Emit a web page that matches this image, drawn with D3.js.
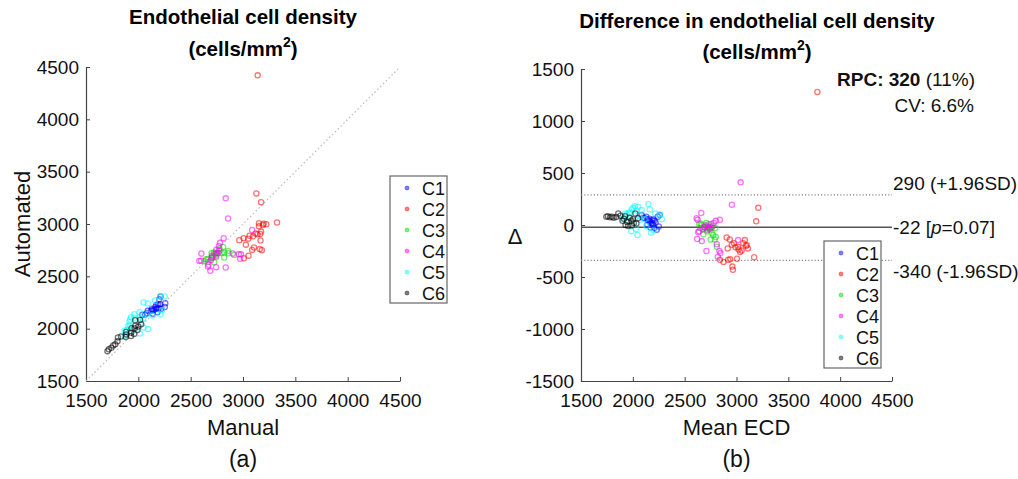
<!DOCTYPE html>
<html>
<head>
<meta charset="utf-8">
<script src="https://cdn.jsdelivr.net/npm/d3@7"></script>
<style>
  html, body { margin: 0; padding: 0; background: #fff; }
  svg { display: block; font-family: "Liberation Sans", Arial, Helvetica, sans-serif; }
</style>
</head>
<body>
<div id="chart"></div>
<script>
// Readings per cluster, taken from panel (b): [mean ECD, automated - manual].
// Panel (a) uses the same readings turned back into (manual, automated).
const c1 = [[2085,95],[2100,70],[2115,65],[2130,80],[2140,5],[2145,50],[2155,40],[2160,60],[2165,30],[2170,-25],[2180,20],[2190,10],[2195,0],[2205,-30],[2210,40],[2220,25],[2230,-45],[2240,80],[2250,-15],[2260,95],[2185,45],[2200,55]];
const c2 = [[2840,-335],[2875,-355],[2905,-120],[2915,-225],[2920,-335],[2935,-140],[2940,-330],[2955,-190],[2960,-400],[2965,-430],[2975,-175],[2990,-215],[3005,-325],[3015,-210],[3020,-235],[3035,-260],[3050,-245],[3065,-175],[3080,-145],[3090,-200],[3100,-195],[3110,-225],[3170,-310],[3190,35],[3210,165],[3780,1280]];
const c3 = [[2640,10],[2650,-30],[2655,15],[2665,0],[2680,-90],[2690,-25],[2700,-30],[2710,20],[2715,-60],[2725,5],[2735,-30],[2745,-45],[2750,-140],[2760,-75],[2770,-10],[2775,-95],[2790,-140],[2795,-30],[2800,-115],[2810,-210],[2720,-15]];
const c4 = [[2615,65],[2625,50],[2620,-135],[2630,-70],[2640,-60],[2660,115],[2665,-155],[2675,-40],[2690,-20],[2700,-5],[2710,-250],[2720,-45],[2730,-20],[2740,-35],[2750,10],[2760,-25],[2780,20],[2800,40],[2810,-185],[2820,-305],[2835,-250],[2840,50],[2845,-270],[2955,195],[3015,-145],[3040,410]];
const c5 = [[1900,60],[1925,110],[1940,100],[1955,40],[1965,120],[1975,115],[1990,150],[2005,165],[2020,180],[2035,140],[2050,175],[1985,-60],[2045,-95],[2030,-40],[2070,50],[2085,145],[2115,55],[2130,-10],[2150,200],[2165,150],[2175,-75],[2200,-50],[2215,110],[2260,100],[2280,55],[2060,90]];
const c6 = [[1745,80],[1760,85],[1780,75],[1800,80],[1815,70],[1840,78],[1860,110],[1880,90],[1900,40],[1915,60],[1930,0],[1945,30],[1955,-10],[1970,70],[1985,40],[2000,55],[2010,20],[2025,110],[2035,15],[2050,65],[1990,-5],[1925,85]];

const clusterNames = ['C1', 'C2', 'C3', 'C4', 'C5', 'C6'];
const clusterColors = ['#0000ff', '#ff0000', '#00dd00', '#ff00ff', '#00ffff', '#000000'];
const clusters = [c1, c2, c3, c4, c5, c6];

const ecdTicks = [1500, 2000, 2500, 3000, 3500, 4000, 4500];
const diffTicks = [-1500, -1000, -500, 0, 500, 1000, 1500];

// Bland-Altman summary lines
const meanDiff = -22;
const upperLoA = 290;
const lowerLoA = -340;

const W = 1018, H = 479;
const FONT = 19;
const axisColor = '#444';

const svg = d3.select('#chart').append('svg')
  .attr('width', W).attr('height', H);

function makeAxes(box, yTicks, yDomain) {
  const x = d3.scaleLinear().domain([1500, 4500]).range([box.left, box.right]);
  const y = d3.scaleLinear().domain(yDomain).range([box.bottom, box.top]);
  const g = svg.append('g');

  const xa = g.append('g')
    .attr('transform', `translate(0,${box.bottom})`)
    .call(d3.axisBottom(x).tickValues(ecdTicks).tickFormat(d => String(d))
      .tickSize(-4).tickSizeOuter(0).tickPadding(12.5));
  const ya = g.append('g')
    .attr('transform', `translate(${box.left},0)`)
    .call(d3.axisLeft(y).tickValues(yTicks).tickFormat(d => String(d))
      .tickSize(-4).tickSizeOuter(0).tickPadding(7));

  [xa, ya].forEach(a => {
    a.select('.domain').attr('stroke', axisColor).attr('stroke-width', 1.2);
    a.selectAll('.tick line').attr('stroke', axisColor).attr('stroke-width', 1);
    a.selectAll('.tick text').attr('fill', '#111').attr('font-size', FONT)
      .attr('font-family', null);
  });
  return { x, y, g };
}

function drawTitle(lines, cx, y1, y2) {
  svg.append('text')
    .attr('x', cx).attr('y', y1)
    .attr('text-anchor', 'middle')
    .attr('font-weight', 'bold').attr('font-size', 20.5)
    .text(lines);
  const t = svg.append('text')
    .attr('x', cx).attr('y', y2)
    .attr('text-anchor', 'middle')
    .attr('font-weight', 'bold').attr('font-size', 20.5);
  t.append('tspan').text('(cells/mm');
  t.append('tspan').attr('font-size', 14).attr('dy', -9).text('2');
  t.append('tspan').attr('dy', 9).text(')');
}

function drawPoints(g, pts, color, x, y) {
  g.selectAll(null)
    .data(pts)
    .join('circle')
    .attr('cx', d => x(d[0]))
    .attr('cy', d => y(d[1]))
    .attr('r', 2.6)
    .attr('fill', 'none')
    .attr('stroke', color)
    .attr('stroke-opacity', 0.55)
    .attr('stroke-width', 1.3);
}

function drawLegend(left, top) {
  const w = 57, h = 127, rowH = 21;
  const g = svg.append('g').attr('transform', `translate(${left},${top})`);
  g.append('rect')
    .attr('width', w).attr('height', h)
    .attr('fill', '#fff').attr('stroke', '#666').attr('stroke-width', 1.2);
  clusterNames.forEach((name, i) => {
    const cy = 12 + i * rowH;
    g.append('circle')
      .attr('cx', 17).attr('cy', cy).attr('r', 2)
      .attr('fill', clusterColors[i]).attr('fill-opacity', 0.5)
      .attr('stroke', clusterColors[i]).attr('stroke-opacity', 0.5).attr('stroke-width', 0.8);
    g.append('text')
      .attr('x', 32).attr('y', cy + 6.5)
      .attr('font-size', 18).attr('fill', '#111')
      .text(name);
  });
}

// ---- panel (a): automated vs manual
const boxA = { left: 86, right: 400, top: 67, bottom: 381 };
const A = makeAxes(boxA, ecdTicks, [1500, 4500]);

A.g.append('line')
  .attr('x1', A.x(1500)).attr('y1', A.y(1500))
  .attr('x2', A.x(4500)).attr('y2', A.y(4500))
  .attr('stroke', '#bbb').attr('stroke-width', 1.2)
  .attr('stroke-dasharray', '1.5,2.5');

clusters.forEach((pts, i) => {
  const pairs = pts.map(([m, d]) => [m - d / 2, m + d / 2]);
  drawPoints(A.g, pairs, clusterColors[i], A.x, A.y);
});

drawTitle('Endothelial cell density', 243, 24, 56);
svg.append('text')
  .attr('transform', `translate(30,${(boxA.top + boxA.bottom) / 2}) rotate(-90)`)
  .attr('text-anchor', 'middle').attr('font-size', 22).attr('fill', '#111')
  .text('Automated');
svg.append('text')
  .attr('x', (boxA.left + boxA.right) / 2).attr('y', 435)
  .attr('text-anchor', 'middle').attr('font-size', 22).attr('fill', '#111')
  .text('Manual');
svg.append('text')
  .attr('x', (boxA.left + boxA.right) / 2).attr('y', 467)
  .attr('text-anchor', 'middle').attr('font-size', 23).attr('fill', '#111')
  .text('(a)');
drawLegend(390, 176);

// ---- panel (b): Bland-Altman
const boxB = { left: 581, right: 892, top: 69, bottom: 381 };
const B = makeAxes(boxB, diffTicks, [-1500, 1500]);

[upperLoA, lowerLoA].forEach(v => {
  B.g.append('line')
    .attr('x1', B.x(1500)).attr('x2', B.x(4500))
    .attr('y1', B.y(v)).attr('y2', B.y(v))
    .attr('stroke', '#888').attr('stroke-width', 1.3)
    .attr('stroke-dasharray', '1.2,2');
});
B.g.append('line')
  .attr('x1', B.x(1500)).attr('x2', B.x(4500))
  .attr('y1', B.y(meanDiff)).attr('y2', B.y(meanDiff))
  .attr('stroke', '#555').attr('stroke-width', 1.5);

clusters.forEach((pts, i) => drawPoints(B.g, pts, clusterColors[i], B.x, B.y));

drawTitle('Difference in endothelial cell density', 757, 28, 59);

const labX = boxB.right + 1;
svg.append('text').attr('x', labX).attr('y', B.y(upperLoA) - 5)
  .attr('font-size', FONT).attr('fill', '#111').text('290 (+1.96SD)');
const mid = svg.append('text').attr('x', labX).attr('y', B.y(meanDiff) + 6.5)
  .attr('font-size', FONT).attr('fill', '#111');
mid.append('tspan').text('-22 [');
mid.append('tspan').attr('font-style', 'italic').text('p');
mid.append('tspan').text('=0.07]');
svg.append('text').attr('x', labX).attr('y', B.y(lowerLoA) + 18)
  .attr('font-size', FONT).attr('fill', '#111').text('-340 (-1.96SD)');

const rpc = svg.append('text').attr('x', 975).attr('y', 86)
  .attr('text-anchor', 'end').attr('font-size', FONT).attr('fill', '#111');
rpc.append('tspan').attr('font-weight', 'bold').text('RPC: 320');
rpc.append('tspan').text(' (11%)');
svg.append('text').attr('x', 974).attr('y', 112)
  .attr('text-anchor', 'end').attr('font-size', FONT).attr('fill', '#111')
  .text('CV: 6.6%');

svg.append('text')
  .attr('x', 515).attr('y', 244)
  .attr('text-anchor', 'middle').attr('font-size', 22).attr('fill', '#111')
  .text('Δ');
svg.append('text')
  .attr('x', (boxB.left + boxB.right) / 2).attr('y', 435)
  .attr('text-anchor', 'middle').attr('font-size', 22).attr('fill', '#111')
  .text('Mean ECD');
svg.append('text')
  .attr('x', (boxB.left + boxB.right) / 2).attr('y', 467)
  .attr('text-anchor', 'middle').attr('font-size', 23).attr('fill', '#111')
  .text('(b)');
drawLegend(824, 241);
</script>
</body>
</html>
